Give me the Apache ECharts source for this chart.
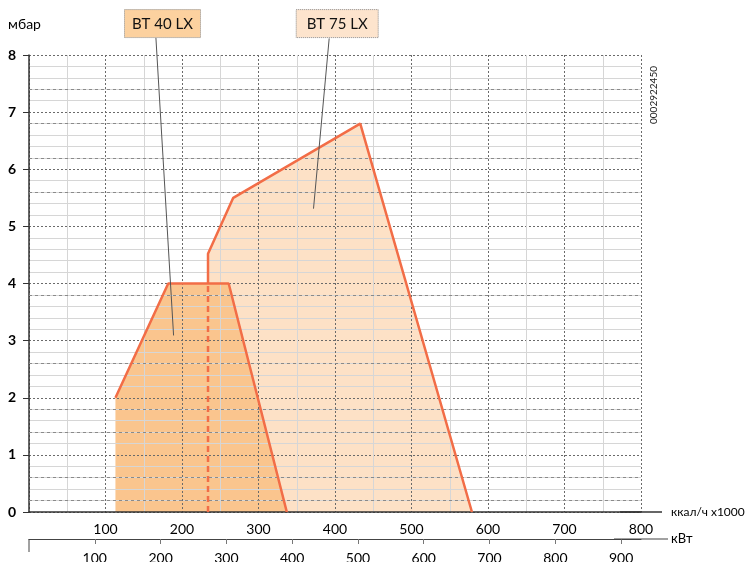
<!DOCTYPE html>
<html><head><meta charset="utf-8">
<script src="https://cdn.jsdelivr.net/npm/echarts@6/dist/echarts.min.js"></script>
<style>html,body{margin:0;padding:0;background:#fff}#c{width:750px;height:562px}</style>
</head><body><div id="c"></div>
<script>
// ---- data ----
const yTicks = [0,1,2,3,4,5,6,7,8];
const kcalLabels = [100,200,300,400,500,600,700,800];
const kwLabels = [100,200,300,400,500,600,700,800,900];
const dashedGrid = [0.2,0.6,1.4,1.8,2.6,3.8,5.6,6.2,6.8,7.4];
// BT 40 LX working field (kcal/h x1000, mbar)
const bt40X = [113,113,182,261,337];
const bt40Y = [0,2,4,4,0];
// BT 75 LX working field
const bt75X = [234,234,267,433,579];
const bt75Y = [0,4.52,5.5,6.8,0];
const bt40Top = 4;
const kwPerKcal = 1/0.86;
// annotation anchors (data coords)
const annotations = [
  {name:'BT 40 LX', box:[174.5,8.55], from:[165.9,8.3], to:[189,3.09], w:76, fill:'#fcd19f'},
  {name:'BT 75 LX', box:[402.9,8.55], from:[392.4,8.29], to:[371.9,5.31], w:82, fill:'#fde4cd'}
];

const FONT = 'Lato';
const chart = echarts.init(document.getElementById('c'), null, {renderer:'canvas'});
const pts = (xs, ys) => xs.map((x,i)=>[x, ys[i]]);
const bt40 = pts(bt40X, bt40Y);
const bt75 = pts(bt75X, bt75Y);
const bt75Solid = [[bt75X[0], bt40Top]].concat(bt75.slice(1));
const bt75Dash = [[bt75X[0], 0],[bt75X[0], bt40Top]];
const orange = '#f26d47';

chart.setOption({
  animation:false,
  backgroundColor:'#fff',
  grid:{left:29, right:109, top:55, bottom:50, containLabel:false, outerBoundsMode:'none'},
  xAxis:[
    {type:'value', min:0, max:800, interval:100, position:'bottom', z:3,
     axisLine:{lineStyle:{color:'#333', width:1.5}, symbol:['none','rect'], symbolSize:[1.5,42]},
     axisTick:{show:false},
     axisLabel:{customValues:kcalLabels, margin:10, color:'#000', fontSize:14, fontFamily:FONT},
     splitLine:{show:true, lineStyle:{color:'#6a6a6a', type:[2,2], width:1}},
     minorTick:{show:false, splitNumber:2},
     minorSplitLine:{show:true, lineStyle:{color:'#d6d6d6', width:1}},
     name:'ккал/ч x1000', nameLocation:'end', nameGap:30,
     nameTextStyle:{color:'#000', fontSize:12, fontFamily:FONT}},
    {type:'value', min:0, max:800*kwPerKcal, position:'bottom', offset:27, z:3,
     axisLine:{lineStyle:{color:'#444', width:1}, symbol:['none','rect'], symbolSize:[1,54]},
     axisTick:{show:true, customValues:kwLabels, length:5, lineStyle:{color:'#777'}},
     axisLabel:{customValues:kwLabels, margin:12, color:'#000', fontSize:14, fontFamily:FONT},
     splitLine:{show:false},
     name:'кВт', nameLocation:'end', nameGap:30,
     nameTextStyle:{color:'#000', fontSize:13, fontFamily:FONT}}
  ],
  yAxis:{type:'value', min:0, max:8, interval:1, z:3,
    axisLine:{show:true, lineStyle:{color:'#333', width:1.5}},
    axisTick:{show:true, length:6, lineStyle:{color:'#333'}},
    axisLabel:{customValues:yTicks, margin:13, color:'#000', fontSize:14, fontWeight:'bold', fontFamily:FONT},
    splitLine:{show:true, lineStyle:{color:'#6a6a6a', type:[2,2], width:1}},
    minorTick:{show:false, splitNumber:5},
    minorSplitLine:{show:true, lineStyle:{color:'#d6d6d6', width:1}},
    name:'мбар', nameLocation:'end', nameGap:24,
    nameTextStyle:{color:'#000', fontSize:14, fontFamily:FONT, align:'center', padding:[0,9,0,0]}},
  series:[
    {type:'line', name:'BT 75 LX fill', data:bt75, z:1, silent:true, showSymbol:false,
     lineStyle:{width:0}, areaStyle:{color:'#fde1c6', opacity:1}},
    {type:'line', name:'BT 40 LX fill', data:bt40, z:1, silent:true, showSymbol:false,
     lineStyle:{width:0}, areaStyle:{color:'#fac58e', opacity:1}},
    {type:'line', name:'grid dashed', data:[], z:4, silent:true,
     markLine:{silent:true, symbol:['none','none'], label:{show:false}, animation:false,
       lineStyle:{color:'#8a8a8a', type:[3,3], width:1},
       emphasis:{disabled:true},
       data:dashedGrid.map(v=>({yAxis:v}))}},
    {type:'line', name:'BT 40 LX', data:bt40.slice(1), z:5, silent:true, showSymbol:false,
     lineStyle:{color:orange, width:2.5}},
    {type:'line', name:'BT 75 LX', data:bt75Solid, z:5, silent:true, showSymbol:false,
     lineStyle:{color:orange, width:2.5}},
    {type:'line', name:'BT 75 LX dashed', data:bt75Dash, z:5, silent:true, showSymbol:false,
     lineStyle:{color:orange, width:2.5, type:[6,4]}}
  ]
});

function place(){
  const g = [];
  const toPx = p => chart.convertToPixel({xAxisIndex:0, yAxisIndex:0}, p);
  annotations.forEach(a=>{
    const c = toPx(a.box), f = toPx(a.from), t = toPx(a.to);
    g.push({type:'line', silent:true, z:10, shape:{x1:f[0],y1:f[1],x2:t[0],y2:t[1]}, style:{stroke:'#555', lineWidth:1}});
    g.push({type:'rect', silent:true, z:11, shape:{x:c[0]-a.w/2, y:c[1]-14, width:a.w, height:28},
      style:{fill:a.fill, stroke:'#8a8a8a', lineWidth:1, lineDash:[1,1]}});
    g.push({type:'text', silent:true, z:12, x:c[0], y:c[1]+1,
      style:{text:a.name, fill:'#111', font:'15px '+FONT, align:'center', verticalAlign:'middle'}});
  });
  const o = toPx([0,0]);
  g.push({type:'line', silent:true, z:10, shape:{x1:o[0], y1:o[1]+27, x2:o[0], y2:o[1]+40}, style:{stroke:'#444', lineWidth:1}});
  g.push({type:'text', silent:true, z:12, x:654, y:95, rotation:Math.PI/2,
    style:{text:'0002922450', fill:'#222', font:'10px '+FONT, align:'center', verticalAlign:'middle'}});
  chart.setOption({graphic:g});
}
place();
</script></body></html>
